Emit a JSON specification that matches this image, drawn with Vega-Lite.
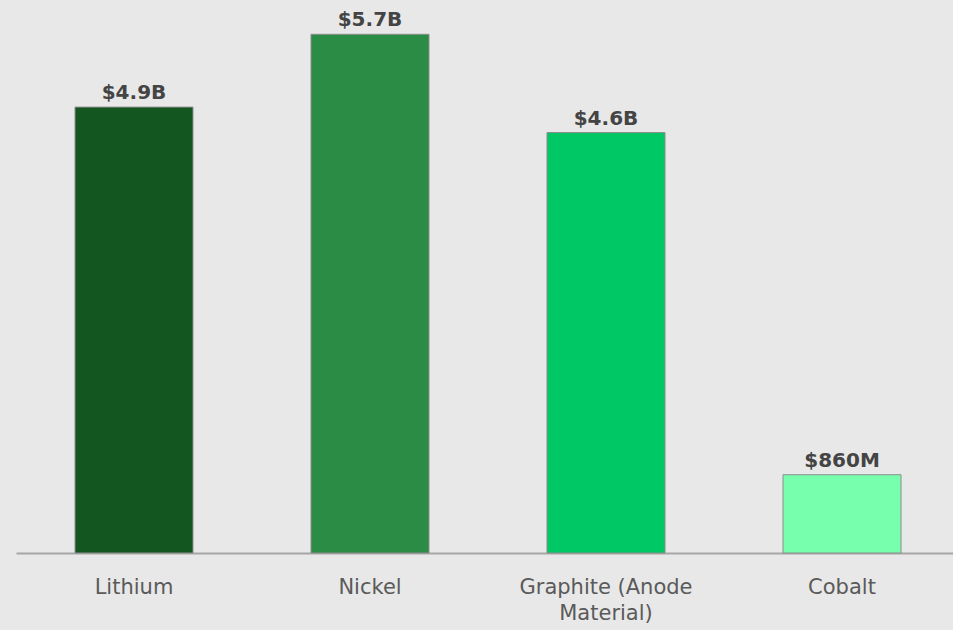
{
  "$schema": "https://vega.github.io/schema/vega-lite/v6.json",
  "autosize": "none",
  "width": 944,
  "height": 546,
  "padding": {"left": 16, "top": 7, "right": 0, "bottom": 77},
  "background": "#e8e8e8",
  "config": {"view": {"stroke": null}, "font": "DejaVu Sans"},
  "data": {
    "values": [
      {"mineral": "Lithium", "value": 4.9, "label": "$4.9B", "color": "#13561f"},
      {"mineral": "Nickel", "value": 5.7, "label": "$5.7B", "color": "#2b8c46"},
      {"mineral": "Graphite (Anode Material)", "value": 4.62, "label": "$4.6B", "color": "#00c864"},
      {"mineral": "Cobalt", "value": 0.86, "label": "$860M", "color": "#77ffad"}
    ]
  },
  "encoding": {
    "x": {
      "field": "mineral",
      "type": "nominal",
      "sort": null,
      "scale": {"paddingInner": 0.5, "paddingOuter": 0.25},
      "axis": {
        "title": null,
        "labelAngle": 0,
        "labelFontSize": 21,
        "labelColor": "#5a5a5a",
        "labelFont": "DejaVu Sans",
        "labelPadding": 23,
        "labelLineHeight": 26,
        "ticks": false,
        "domainColor": "#a6a6a6",
        "domainWidth": 2,
        "labelExpr": "datum.value == 'Graphite (Anode Material)' ? ['Graphite (Anode', 'Material)'] : datum.value"
      }
    },
    "y": {
      "field": "value",
      "type": "quantitative",
      "scale": {"domain": [0, 6]},
      "axis": null
    }
  },
  "layer": [
    {
      "mark": {"type": "bar", "stroke": "#8c8c8c", "strokeWidth": 1},
      "encoding": {
        "color": {"field": "color", "type": "nominal", "scale": null, "legend": null}
      }
    },
    {
      "mark": {"type": "text", "baseline": "alphabetic", "dy": -8, "fontSize": 20, "fontWeight": "bold", "color": "#444444", "font": "DejaVu Sans"},
      "encoding": {
        "text": {"field": "label"}
      }
    }
  ]
}
